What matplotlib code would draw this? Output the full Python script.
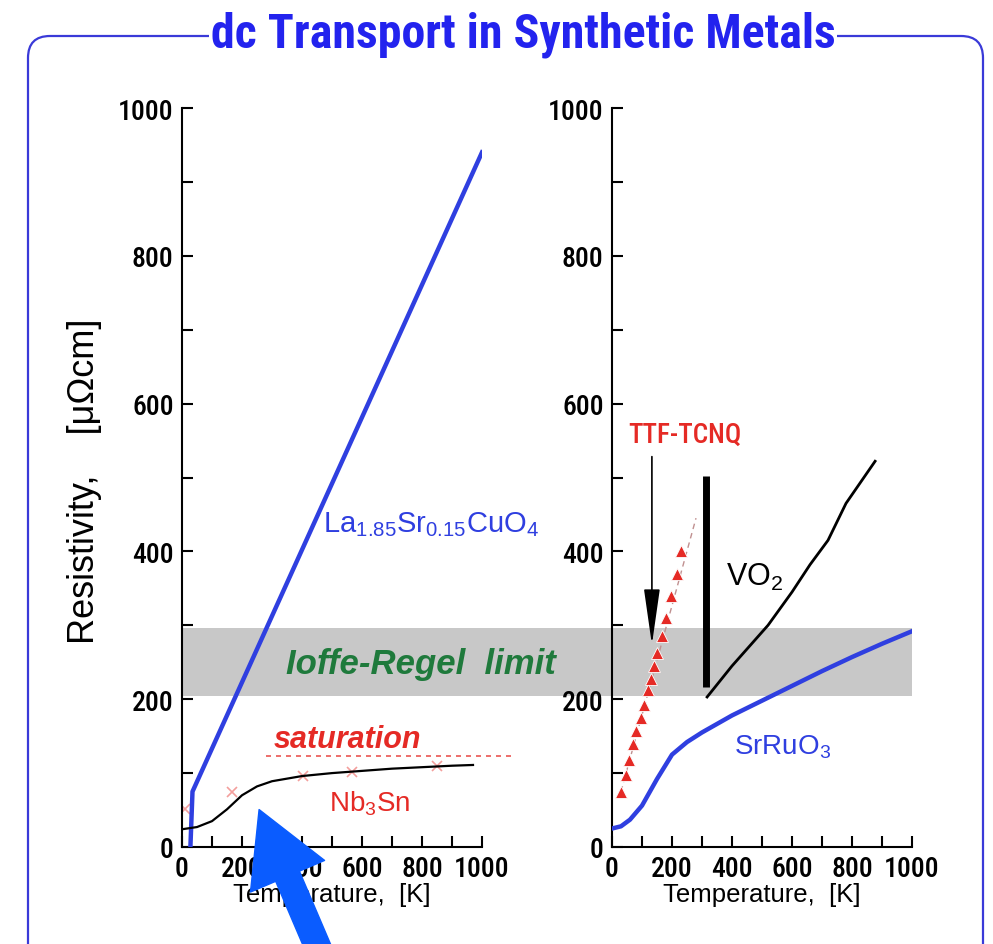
import numpy as np
import matplotlib
matplotlib.use("Agg")
import matplotlib.pyplot as plt
from matplotlib.patches import FancyBboxPatch, FancyArrowPatch
from matplotlib.ticker import MultipleLocator

# --- data ---
la_T = [28, 35, 1000]
la_rho = [0, 75, 940]

nb_T = [0, 50, 100, 150, 200, 250, 300, 400, 500, 600, 700, 800, 900, 970]
nb_rho = [24, 27, 35, 51, 70, 82, 89, 96, 100, 103, 106, 108, 110, 111]
nb_pts_T = [10, 167, 403, 567, 850]
nb_pts_rho = [52, 74, 96, 101, 110]
sat_level = 123

sr_T = [0, 30, 60, 100, 150, 200, 250, 300, 400, 500, 600, 700, 800, 900, 1000]
sr_rho = [25, 28, 37, 56, 92, 125, 142, 155, 178, 198, 218, 238, 257, 275, 292]

vo2_bar_T = [313, 313]
vo2_bar_rho = [502, 216]
vo2_T = [317, 400, 520, 600, 660, 720, 780, 877]
vo2_rho = [203, 245, 300, 345, 382, 415, 465, 522]

ttf_T = [30, 45, 55, 70, 80, 95, 105, 120, 130, 140, 150, 165, 180, 195, 215, 230]
ttf_rho = [75, 98, 118, 140, 157, 175, 192, 212, 228, 245, 262, 285, 310, 340, 370, 400]
ttf_line_T = [30, 280]
ttf_line_rho = [75, 445]

band = (205, 297)

BLUE = "#2f3fe0"
RED = "#e52a25"
GREEN = "#1f7a3c"

plt.rcParams["font.family"] = ["Liberation Sans", "DejaVu Sans"]
plt.rcParams["mathtext.fontset"] = "custom"
plt.rcParams["mathtext.rm"] = "Liberation Sans"
NARROW = ["Roboto Condensed", "Liberation Sans", "DejaVu Sans"]

fig = plt.figure(figsize=(9.93, 9.45), dpi=100)
ax1 = fig.add_axes([182 / 993, 1 - 848 / 945, 300 / 993, 739 / 945])
ax2 = fig.add_axes([612 / 993, 1 - 848 / 945, 300 / 993, 739 / 945])

for ax in (ax1, ax2):
    ax.set_facecolor("none")
    ax.set_xlim(0, 1000)
    ax.set_ylim(0, 1000)
    for s in ("top", "right"):
        ax.spines[s].set_visible(False)
    for s in ("left", "bottom"):
        ax.spines[s].set_linewidth(1.5)
    ax.xaxis.set_major_locator(MultipleLocator(200))
    ax.xaxis.set_minor_locator(MultipleLocator(100))
    ax.yaxis.set_major_locator(MultipleLocator(200))
    ax.yaxis.set_minor_locator(MultipleLocator(100))
    ax.tick_params(which="both", direction="in", length=8, width=1.5)
    ax.tick_params(labelsize=20, pad=6)
    for lab in ax.get_xticklabels() + ax.get_yticklabels():
        lab.set_family(NARROW)
        lab.set_fontweight("medium")
    ax.set_xlabel("Temperature,  [K]", fontsize=18.5, labelpad=0)

# grey Ioffe-Regel band (left one runs across the gap)
ax1.axhspan(band[0], band[1], xmin=0, xmax=430 / 300, color="#c8c8c8", lw=0,
            clip_on=False, zorder=0)
ax2.axhspan(band[0], band[1], color="#c8c8c8", lw=0, zorder=0)

# left panel
ax1.plot(la_T, la_rho, color=BLUE, lw=3.2, zorder=3)
ax1.plot(nb_T, nb_rho, color="black", lw=1.6, zorder=3)
ax1.plot(nb_pts_T, nb_pts_rho, ls="none", marker="x", ms=7, mew=1.2,
         color=RED, alpha=0.45, zorder=2)
ax1.plot([280, 1110], [sat_level, sat_level], ls=(0, (3, 3)), color=RED,
         lw=1.2, alpha=0.8, clip_on=False)
ax1.text(830, 437, r"$\mathregular{La_{1.85}Sr_{0.15}CuO_4}$", color=BLUE,
         fontsize=21, ha="center", va="center")
ax1.text(797, 248, "Ioffe-Regel  limit", color=GREEN, fontsize=25,
         fontweight="bold", style="italic", ha="center", va="center", zorder=4)
ax1.text(553, 146, "saturation", color=RED, fontsize=22, fontweight="bold",
         style="italic", ha="center", va="center")
ax1.text(627, 60, r"$\mathregular{Nb_3Sn}$", color=RED, fontsize=20,
         ha="center", va="center")

# right panel
ax2.plot(sr_T, sr_rho, color=BLUE, lw=3.2, zorder=3)
ax2.plot(vo2_bar_T, vo2_bar_rho, color="black", lw=5, solid_capstyle="butt",
         zorder=3)
ax2.plot(vo2_T, vo2_rho, color="black", lw=2, zorder=3)
ax2.plot(ttf_line_T, ttf_line_rho, ls=(0, (4, 3)), color="#c09090", lw=1,
         zorder=2)
ax2.plot(ttf_T, ttf_rho, ls="none", marker="^", ms=8.5, mfc=RED, mec="white",
         mew=0.6, zorder=3)
ax2.annotate("", xy=(133, 270), xytext=(133, 532),
             arrowprops=dict(arrowstyle="-|>,head_length=3.5,head_width=0.5",
                             color="black", lw=1.2, mutation_scale=10))
ax2.text(243, 559, "TTF-TCNQ", color=RED, fontsize=19.5, family=NARROW,
         fontweight="medium", ha="center", va="center")
ax2.text(477, 366, r"$\mathregular{VO_2}$", color="black", fontsize=22,
         ha="center", va="center")
ax2.text(567, 136, r"$\mathregular{SrRuO_3}$", color=BLUE, fontsize=20,
         ha="center", va="center")

fig.text(85 / 993, 1 - 481 / 945, "Resistivity,    [\u03bc\u03a9cm]",
         rotation=90, fontsize=26, ha="center", va="center")

# frame and title
frame = FancyBboxPatch((0.28, -0.5), 9.55, 9.58,
                       boxstyle="round,pad=0,rounding_size=0.22",
                       transform=fig.dpi_scale_trans, fill=False,
                       edgecolor="#3a3ad8", lw=1.6, zorder=1)
fig.patches.append(frame)
fig.text(523 / 993, 1 - 35 / 945, "dc Transport in Synthetic Metals",
         family=NARROW, fontsize=34.5, fontweight="bold", color="#2323ee",
         ha="center", va="center", zorder=3,
         bbox=dict(facecolor="white", edgecolor="none", pad=1))

# big blue pointer arrow at the bottom
arrow = FancyArrowPatch((3.25, -0.2), (2.58, 1.37),
                        arrowstyle="simple,head_length=0.9,head_width=1.0,tail_width=0.32",
                        mutation_scale=58, color="#0a5cff",
                        transform=fig.dpi_scale_trans, zorder=5)
fig.patches.append(arrow)

fig.savefig("out.png", dpi=100)
